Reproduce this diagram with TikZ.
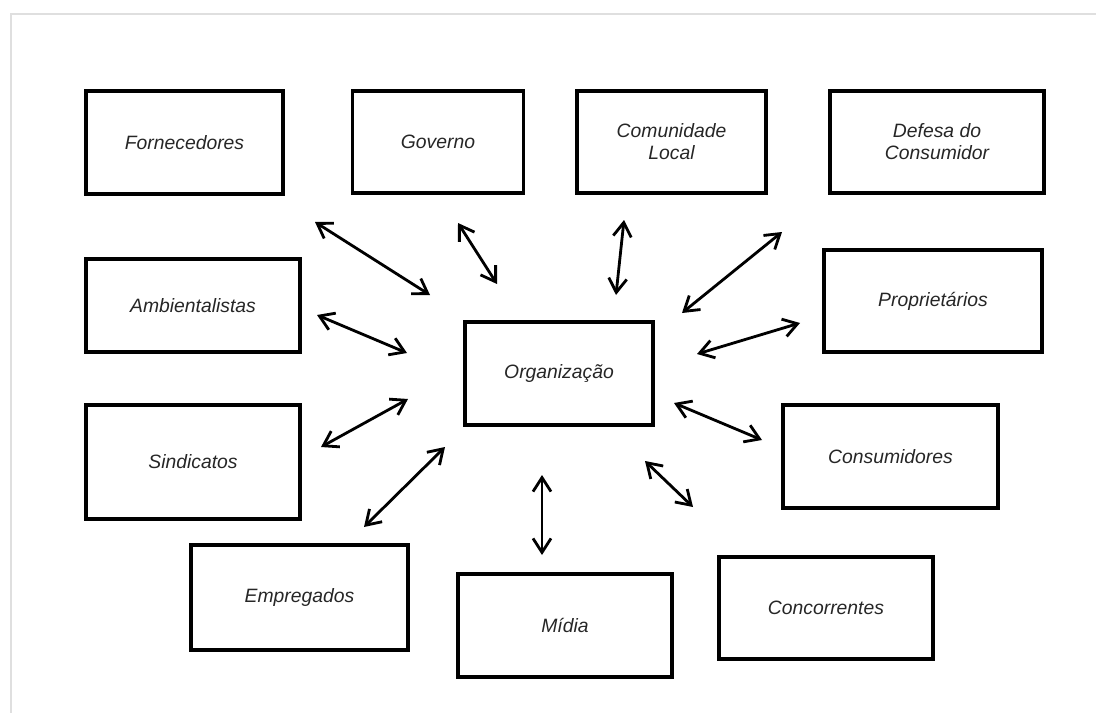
\documentclass[tikz,border=0pt]{standalone}
\usepackage{fontspec}
\setmainfont{Liberation Sans}
\usetikzlibrary{arrows.meta}

\begin{document}
\begin{tikzpicture}[
  x=0.02cm, y=-0.02cm,
  box/.style={rectangle, draw, line width=2pt, align=center, text=black!85, font=\itshape\fontsize{11}{12.5}\selectfont, inner sep=0pt},
  arrow/.style={<->, >={Straight Barb[length=2.8mm,width=3.6mm]}, line width=1.6pt}
]
\useasboundingbox (0,0) rectangle (1096,713);
\draw[gray!25, line width=1.2pt] (11,713) -- (11,14) -- (1096,14);

\node[box, minimum width=3.94cm, minimum height=2.06cm] (forn) at (184.5,142.5) {Fornecedores};
\node[box, minimum width=3.42cm, minimum height=2.04cm] (gov) at (438,142) {Governo};
\node[box, minimum width=3.78cm, minimum height=2.04cm] (com) at (671.5,142) {Comunidade\\Local};
\node[box, minimum width=4.28cm, minimum height=2.04cm] (def) at (937,142) {Defesa do\\Consumidor};
\node[box, minimum width=4.28cm, minimum height=1.86cm] (amb) at (193,305.5) {Ambientalistas};
\node[box, minimum width=4.36cm, minimum height=2.04cm] (prop) at (933,301) {Proprietários};
\node[box, minimum width=3.76cm, minimum height=2.06cm] (org) at (559,373.5) {Organização};
\node[box, minimum width=4.28cm, minimum height=2.28cm] (sind) at (193,462) {Sindicatos};
\node[box, minimum width=4.30cm, minimum height=2.06cm] (cons) at (890.5,456.5) {Consumidores};
\node[box, minimum width=4.34cm, minimum height=2.10cm] (emp) at (299.5,597.5) {Empregados};
\node[box, minimum width=4.28cm, minimum height=2.06cm] (mid) at (565,625.5) {Mídia};
\node[box, minimum width=4.28cm, minimum height=2.04cm] (conc) at (826,608) {Concorrentes};

% arrow ends
\coordinate (fornA) at (315,222); \coordinate (fornB) at (430,295);
\coordinate (govA) at (458,223);  \coordinate (govB) at (497,284);
\coordinate (comA) at (624,220);  \coordinate (comB) at (616,295);
\coordinate (defA) at (782,232);  \coordinate (defB) at (682,313);
\coordinate (ambA) at (317,315);  \coordinate (ambB) at (407,353);
\coordinate (propA) at (800,323); \coordinate (propB) at (697,354);
\coordinate (sindA) at (321,447); \coordinate (sindB) at (408,399);
\coordinate (consA) at (762,440); \coordinate (consB) at (674,403);
\coordinate (empA) at (364,527);  \coordinate (empB) at (445,447);
\coordinate (midA) at (542,555);  \coordinate (midB) at (542,475);
\coordinate (concA) at (693,507); \coordinate (concB) at (645,461);

\draw[arrow] (fornA) -- (fornB);
\draw[arrow] (govA) -- (govB);
\draw[arrow] (comA) -- (comB);
\draw[arrow] (defA) -- (defB);
\draw[arrow] (ambA) -- (ambB);
\draw[arrow] (propA) -- (propB);
\draw[arrow] (sindA) -- (sindB);
\draw[arrow] (consA) -- (consB);
\draw[arrow] (empA) -- (empB);
\draw[arrow] (midA) -- (midB);
\draw[arrow] (concA) -- (concB);
\end{tikzpicture}
\end{document}
